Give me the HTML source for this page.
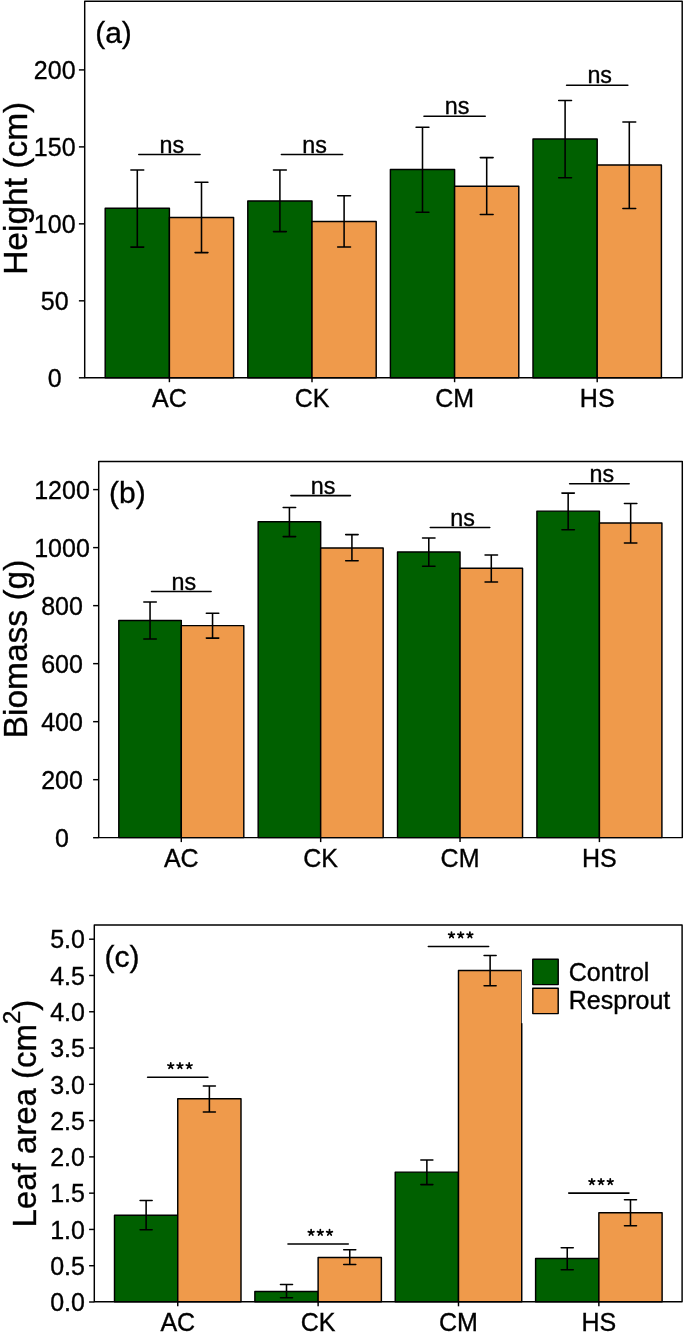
<!DOCTYPE html>
<html><head><meta charset="utf-8"><style>
html,body{margin:0;padding:0;background:#fff;}
body{width:685px;height:1334px;overflow:hidden;}
svg{display:block;font-family:"Liberation Sans", sans-serif;will-change:transform;}
text{fill:#000;stroke:#000;stroke-width:0.35px;}
rect,path{stroke-linejoin:round;}
</style></head><body>
<svg width="685" height="1334" viewBox="0 0 685 1334">
<rect width="685" height="1334" fill="#fff"/>
<rect x="105.20" y="208.30" width="64.20" height="169.40" fill="#006000" stroke="#000" stroke-width="1.45"/>
<rect x="169.40" y="217.50" width="64.20" height="160.20" fill="#EF9A4B" stroke="#000" stroke-width="1.45"/>
<path d="M137.30 169.90V247.10M130.88 169.90H143.73M130.88 247.10H143.73" stroke="#000" stroke-width="1.55" stroke-linecap="round" fill="none"/>
<path d="M201.50 182.30V252.60M195.07 182.30H207.93M195.07 252.60H207.93" stroke="#000" stroke-width="1.55" stroke-linecap="round" fill="none"/>
<path d="M138.78 154.50H200.03" stroke="#000" stroke-width="1.55" stroke-linecap="round" fill="none"/>
<text x="171.90" y="152.60" text-anchor="middle" font-size="23.3">ns</text>
<path d="M169.40 377.70V382.20" stroke="#000" stroke-width="1.45"/>
<text x="169.40" y="406.80" text-anchor="middle" font-size="25">AC</text>
<rect x="247.80" y="200.90" width="64.20" height="176.80" fill="#006000" stroke="#000" stroke-width="1.45"/>
<rect x="312.00" y="221.40" width="64.20" height="156.30" fill="#EF9A4B" stroke="#000" stroke-width="1.45"/>
<path d="M279.90 169.90V231.60M273.48 169.90H286.33M273.48 231.60H286.33" stroke="#000" stroke-width="1.55" stroke-linecap="round" fill="none"/>
<path d="M344.10 195.80V246.90M337.68 195.80H350.53M337.68 246.90H350.53" stroke="#000" stroke-width="1.55" stroke-linecap="round" fill="none"/>
<path d="M281.38 154.50H342.62" stroke="#000" stroke-width="1.55" stroke-linecap="round" fill="none"/>
<text x="314.50" y="152.60" text-anchor="middle" font-size="23.3">ns</text>
<path d="M312.00 377.70V382.20" stroke="#000" stroke-width="1.45"/>
<text x="312.00" y="406.80" text-anchor="middle" font-size="25">CK</text>
<rect x="390.40" y="169.50" width="64.20" height="208.20" fill="#006000" stroke="#000" stroke-width="1.45"/>
<rect x="454.60" y="186.30" width="64.20" height="191.40" fill="#EF9A4B" stroke="#000" stroke-width="1.45"/>
<path d="M422.50 127.20V212.20M416.07 127.20H428.93M416.07 212.20H428.93" stroke="#000" stroke-width="1.55" stroke-linecap="round" fill="none"/>
<path d="M486.70 157.60V214.50M480.27 157.60H493.12M480.27 214.50H493.12" stroke="#000" stroke-width="1.55" stroke-linecap="round" fill="none"/>
<path d="M423.97 116.20H485.22" stroke="#000" stroke-width="1.55" stroke-linecap="round" fill="none"/>
<text x="457.10" y="114.30" text-anchor="middle" font-size="23.3">ns</text>
<path d="M454.60 377.70V382.20" stroke="#000" stroke-width="1.45"/>
<text x="454.60" y="406.80" text-anchor="middle" font-size="25">CM</text>
<rect x="533.00" y="139.00" width="64.20" height="238.70" fill="#006000" stroke="#000" stroke-width="1.45"/>
<rect x="597.20" y="164.90" width="64.20" height="212.80" fill="#EF9A4B" stroke="#000" stroke-width="1.45"/>
<path d="M565.10 100.50V177.80M558.68 100.50H571.52M558.68 177.80H571.52" stroke="#000" stroke-width="1.55" stroke-linecap="round" fill="none"/>
<path d="M629.30 121.90V208.40M622.88 121.90H635.72M622.88 208.40H635.72" stroke="#000" stroke-width="1.55" stroke-linecap="round" fill="none"/>
<path d="M566.58 85.30H627.83" stroke="#000" stroke-width="1.55" stroke-linecap="round" fill="none"/>
<text x="599.70" y="83.40" text-anchor="middle" font-size="23.3">ns</text>
<path d="M597.20 377.70V382.20" stroke="#000" stroke-width="1.45"/>
<text x="597.20" y="406.80" text-anchor="middle" font-size="25">HS</text>
<rect x="84.7" y="1.2" width="597.50" height="376.50" fill="none" stroke="#000" stroke-width="1.45"/>
<path d="M78.90 377.80H84.7" stroke="#000" stroke-width="1.45"/>
<text x="54.7" y="387.05" text-anchor="middle" font-size="25">0</text>
<path d="M78.90 300.82H84.7" stroke="#000" stroke-width="1.45"/>
<text x="54.7" y="310.07" text-anchor="middle" font-size="25">50</text>
<path d="M78.90 223.85H84.7" stroke="#000" stroke-width="1.45"/>
<text x="54.7" y="233.10" text-anchor="middle" font-size="25">100</text>
<path d="M78.90 146.88H84.7" stroke="#000" stroke-width="1.45"/>
<text x="54.7" y="156.12" text-anchor="middle" font-size="25">150</text>
<path d="M78.90 69.90H84.7" stroke="#000" stroke-width="1.45"/>
<text x="54.7" y="79.15" text-anchor="middle" font-size="25">200</text>
<text x="95.2" y="43" font-size="30">(a)</text>
<text transform="translate(26.5 188.3) rotate(-90)" text-anchor="middle" font-size="33.5">Height (cm)</text>
<rect x="118.80" y="620.50" width="62.50" height="217.10" fill="#006000" stroke="#000" stroke-width="1.45"/>
<rect x="181.30" y="625.60" width="62.50" height="212.00" fill="#EF9A4B" stroke="#000" stroke-width="1.45"/>
<path d="M150.05 601.90V638.90M143.83 601.90H156.28M143.83 638.90H156.28" stroke="#000" stroke-width="1.55" stroke-linecap="round" fill="none"/>
<path d="M212.55 613.30V638.10M206.33 613.30H218.78M206.33 638.10H218.78" stroke="#000" stroke-width="1.55" stroke-linecap="round" fill="none"/>
<path d="M151.53 591.50H211.08" stroke="#000" stroke-width="1.55" stroke-linecap="round" fill="none"/>
<text x="183.80" y="589.60" text-anchor="middle" font-size="23.3">ns</text>
<path d="M181.30 837.60V842.10" stroke="#000" stroke-width="1.45"/>
<text x="181.30" y="867.00" text-anchor="middle" font-size="25">AC</text>
<rect x="258.17" y="521.70" width="62.50" height="315.90" fill="#006000" stroke="#000" stroke-width="1.45"/>
<rect x="320.67" y="547.90" width="62.50" height="289.70" fill="#EF9A4B" stroke="#000" stroke-width="1.45"/>
<path d="M289.42 507.40V536.60M283.19 507.40H295.65M283.19 536.60H295.65" stroke="#000" stroke-width="1.55" stroke-linecap="round" fill="none"/>
<path d="M351.92 534.60V560.80M345.69 534.60H358.15M345.69 560.80H358.15" stroke="#000" stroke-width="1.55" stroke-linecap="round" fill="none"/>
<path d="M290.90 495.60H350.44" stroke="#000" stroke-width="1.55" stroke-linecap="round" fill="none"/>
<text x="323.17" y="493.70" text-anchor="middle" font-size="23.3">ns</text>
<path d="M320.67 837.60V842.10" stroke="#000" stroke-width="1.45"/>
<text x="320.67" y="867.00" text-anchor="middle" font-size="25">CK</text>
<rect x="397.54" y="551.90" width="62.50" height="285.70" fill="#006000" stroke="#000" stroke-width="1.45"/>
<rect x="460.04" y="568.30" width="62.50" height="269.30" fill="#EF9A4B" stroke="#000" stroke-width="1.45"/>
<path d="M428.79 538.00V566.20M422.56 538.00H435.02M422.56 566.20H435.02" stroke="#000" stroke-width="1.55" stroke-linecap="round" fill="none"/>
<path d="M491.29 555.00V582.00M485.06 555.00H497.52M485.06 582.00H497.52" stroke="#000" stroke-width="1.55" stroke-linecap="round" fill="none"/>
<path d="M430.27 527.40H489.81" stroke="#000" stroke-width="1.55" stroke-linecap="round" fill="none"/>
<text x="462.54" y="525.50" text-anchor="middle" font-size="23.3">ns</text>
<path d="M460.04 837.60V842.10" stroke="#000" stroke-width="1.45"/>
<text x="460.04" y="867.00" text-anchor="middle" font-size="25">CM</text>
<rect x="536.91" y="511.10" width="62.50" height="326.50" fill="#006000" stroke="#000" stroke-width="1.45"/>
<rect x="599.41" y="523.00" width="62.50" height="314.60" fill="#EF9A4B" stroke="#000" stroke-width="1.45"/>
<path d="M568.16 493.10V529.70M561.93 493.10H574.38M561.93 529.70H574.38" stroke="#000" stroke-width="1.55" stroke-linecap="round" fill="none"/>
<path d="M630.66 503.50V543.00M624.43 503.50H636.88M624.43 543.00H636.88" stroke="#000" stroke-width="1.55" stroke-linecap="round" fill="none"/>
<path d="M569.63 483.70H629.18" stroke="#000" stroke-width="1.55" stroke-linecap="round" fill="none"/>
<text x="601.91" y="481.80" text-anchor="middle" font-size="23.3">ns</text>
<path d="M599.41 837.60V842.10" stroke="#000" stroke-width="1.45"/>
<text x="599.41" y="867.00" text-anchor="middle" font-size="25">HS</text>
<rect x="98.7" y="461.4" width="583.60" height="376.20" fill="none" stroke="#000" stroke-width="1.45"/>
<path d="M93.10 837.70H98.7" stroke="#000" stroke-width="1.45"/>
<text x="62.0" y="846.95" text-anchor="middle" font-size="25">0</text>
<path d="M93.10 779.68H98.7" stroke="#000" stroke-width="1.45"/>
<text x="62.0" y="788.93" text-anchor="middle" font-size="25">200</text>
<path d="M93.10 721.67H98.7" stroke="#000" stroke-width="1.45"/>
<text x="62.0" y="730.92" text-anchor="middle" font-size="25">400</text>
<path d="M93.10 663.65H98.7" stroke="#000" stroke-width="1.45"/>
<text x="62.0" y="672.90" text-anchor="middle" font-size="25">600</text>
<path d="M93.10 605.64H98.7" stroke="#000" stroke-width="1.45"/>
<text x="62.0" y="614.89" text-anchor="middle" font-size="25">800</text>
<path d="M93.10 547.62H98.7" stroke="#000" stroke-width="1.45"/>
<text x="62.0" y="556.87" text-anchor="middle" font-size="25">1000</text>
<path d="M93.10 489.60H98.7" stroke="#000" stroke-width="1.45"/>
<text x="62.0" y="498.85" text-anchor="middle" font-size="25">1200</text>
<text x="109" y="502.7" font-size="30">(b)</text>
<text transform="translate(26.5 649.0) rotate(-90)" text-anchor="middle" font-size="33.5">Biomass (g)</text>
<rect x="114.50" y="1215.20" width="63.25" height="86.60" fill="#006000" stroke="#000" stroke-width="1.45"/>
<rect x="177.75" y="1098.80" width="63.25" height="203.00" fill="#EF9A4B" stroke="#000" stroke-width="1.45"/>
<path d="M146.12 1200.40V1229.70M140.10 1200.40H152.15M140.10 1229.70H152.15" stroke="#000" stroke-width="1.55" stroke-linecap="round" fill="none"/>
<path d="M209.38 1086.00V1111.90M203.35 1086.00H215.40M203.35 1111.90H215.40" stroke="#000" stroke-width="1.55" stroke-linecap="round" fill="none"/>
<path d="M147.60 1077.20H207.90" stroke="#000" stroke-width="1.55" stroke-linecap="round" fill="none"/>
<path d="M170.75 1065.90L170.75 1062.90M170.75 1065.90L173.60 1064.97M170.75 1065.90L172.51 1068.33M170.75 1065.90L168.99 1068.33M170.75 1065.90L167.90 1064.97" stroke="#000" stroke-width="1.7" stroke-linecap="round" fill="none"/>
<path d="M179.95 1065.90L179.95 1062.90M179.95 1065.90L182.80 1064.97M179.95 1065.90L181.71 1068.33M179.95 1065.90L178.19 1068.33M179.95 1065.90L177.10 1064.97" stroke="#000" stroke-width="1.7" stroke-linecap="round" fill="none"/>
<path d="M189.15 1065.90L189.15 1062.90M189.15 1065.90L192.00 1064.97M189.15 1065.90L190.91 1068.33M189.15 1065.90L187.39 1068.33M189.15 1065.90L186.30 1064.97" stroke="#000" stroke-width="1.7" stroke-linecap="round" fill="none"/>
<path d="M177.75 1301.80V1306.30" stroke="#000" stroke-width="1.45"/>
<text x="177.75" y="1331.10" text-anchor="middle" font-size="25">AC</text>
<rect x="254.87" y="1291.40" width="63.25" height="10.40" fill="#006000" stroke="#000" stroke-width="1.45"/>
<rect x="318.12" y="1257.40" width="63.25" height="44.40" fill="#EF9A4B" stroke="#000" stroke-width="1.45"/>
<path d="M286.50 1284.40V1297.70M280.47 1284.40H292.52M280.47 1297.70H292.52" stroke="#000" stroke-width="1.55" stroke-linecap="round" fill="none"/>
<path d="M349.75 1249.70V1264.40M343.72 1249.70H355.77M343.72 1264.40H355.77" stroke="#000" stroke-width="1.55" stroke-linecap="round" fill="none"/>
<path d="M287.97 1243.90H348.27" stroke="#000" stroke-width="1.55" stroke-linecap="round" fill="none"/>
<path d="M311.12 1232.60L311.12 1229.60M311.12 1232.60L313.97 1231.67M311.12 1232.60L312.88 1235.03M311.12 1232.60L309.36 1235.03M311.12 1232.60L308.27 1231.67" stroke="#000" stroke-width="1.7" stroke-linecap="round" fill="none"/>
<path d="M320.32 1232.60L320.32 1229.60M320.32 1232.60L323.17 1231.67M320.32 1232.60L322.08 1235.03M320.32 1232.60L318.56 1235.03M320.32 1232.60L317.47 1231.67" stroke="#000" stroke-width="1.7" stroke-linecap="round" fill="none"/>
<path d="M329.52 1232.60L329.52 1229.60M329.52 1232.60L332.37 1231.67M329.52 1232.60L331.28 1235.03M329.52 1232.60L327.76 1235.03M329.52 1232.60L326.67 1231.67" stroke="#000" stroke-width="1.7" stroke-linecap="round" fill="none"/>
<path d="M318.12 1301.80V1306.30" stroke="#000" stroke-width="1.45"/>
<text x="318.12" y="1331.10" text-anchor="middle" font-size="25">CK</text>
<rect x="395.24" y="1172.10" width="63.25" height="129.70" fill="#006000" stroke="#000" stroke-width="1.45"/>
<rect x="458.49" y="970.50" width="63.25" height="331.30" fill="#EF9A4B" stroke="#000" stroke-width="1.45"/>
<path d="M426.87 1160.00V1184.60M420.84 1160.00H432.89M420.84 1184.60H432.89" stroke="#000" stroke-width="1.55" stroke-linecap="round" fill="none"/>
<path d="M490.12 955.40V985.80M484.09 955.40H496.14M484.09 985.80H496.14" stroke="#000" stroke-width="1.55" stroke-linecap="round" fill="none"/>
<path d="M428.34 946.40H488.64" stroke="#000" stroke-width="1.55" stroke-linecap="round" fill="none"/>
<path d="M451.49 935.10L451.49 932.10M451.49 935.10L454.34 934.17M451.49 935.10L453.25 937.53M451.49 935.10L449.73 937.53M451.49 935.10L448.64 934.17" stroke="#000" stroke-width="1.7" stroke-linecap="round" fill="none"/>
<path d="M460.69 935.10L460.69 932.10M460.69 935.10L463.54 934.17M460.69 935.10L462.45 937.53M460.69 935.10L458.93 937.53M460.69 935.10L457.84 934.17" stroke="#000" stroke-width="1.7" stroke-linecap="round" fill="none"/>
<path d="M469.89 935.10L469.89 932.10M469.89 935.10L472.74 934.17M469.89 935.10L471.65 937.53M469.89 935.10L468.13 937.53M469.89 935.10L467.04 934.17" stroke="#000" stroke-width="1.7" stroke-linecap="round" fill="none"/>
<path d="M458.49 1301.80V1306.30" stroke="#000" stroke-width="1.45"/>
<text x="458.49" y="1331.10" text-anchor="middle" font-size="25">CM</text>
<rect x="535.61" y="1258.50" width="63.25" height="43.30" fill="#006000" stroke="#000" stroke-width="1.45"/>
<rect x="598.86" y="1212.70" width="63.25" height="89.10" fill="#EF9A4B" stroke="#000" stroke-width="1.45"/>
<path d="M567.24 1247.70V1269.80M561.21 1247.70H573.26M561.21 1269.80H573.26" stroke="#000" stroke-width="1.55" stroke-linecap="round" fill="none"/>
<path d="M630.49 1199.70V1225.80M624.46 1199.70H636.51M624.46 1225.80H636.51" stroke="#000" stroke-width="1.55" stroke-linecap="round" fill="none"/>
<path d="M568.71 1193.10H629.01" stroke="#000" stroke-width="1.55" stroke-linecap="round" fill="none"/>
<path d="M591.86 1181.80L591.86 1178.80M591.86 1181.80L594.71 1180.87M591.86 1181.80L593.62 1184.23M591.86 1181.80L590.10 1184.23M591.86 1181.80L589.01 1180.87" stroke="#000" stroke-width="1.7" stroke-linecap="round" fill="none"/>
<path d="M601.06 1181.80L601.06 1178.80M601.06 1181.80L603.91 1180.87M601.06 1181.80L602.82 1184.23M601.06 1181.80L599.30 1184.23M601.06 1181.80L598.21 1180.87" stroke="#000" stroke-width="1.7" stroke-linecap="round" fill="none"/>
<path d="M610.26 1181.80L610.26 1178.80M610.26 1181.80L613.11 1180.87M610.26 1181.80L612.02 1184.23M610.26 1181.80L608.50 1184.23M610.26 1181.80L607.41 1180.87" stroke="#000" stroke-width="1.7" stroke-linecap="round" fill="none"/>
<path d="M598.86 1301.80V1306.30" stroke="#000" stroke-width="1.45"/>
<text x="598.86" y="1331.10" text-anchor="middle" font-size="25">HS</text>
<rect x="94.3" y="925.0" width="587.80" height="376.80" fill="none" stroke="#000" stroke-width="1.45"/>
<path d="M89.10 1302.00H94.3" stroke="#000" stroke-width="1.45"/>
<text x="67.6" y="1311.25" text-anchor="middle" font-size="25">0.0</text>
<path d="M89.10 1265.72H94.3" stroke="#000" stroke-width="1.45"/>
<text x="67.6" y="1274.97" text-anchor="middle" font-size="25">0.5</text>
<path d="M89.10 1229.44H94.3" stroke="#000" stroke-width="1.45"/>
<text x="67.6" y="1238.69" text-anchor="middle" font-size="25">1.0</text>
<path d="M89.10 1193.16H94.3" stroke="#000" stroke-width="1.45"/>
<text x="67.6" y="1202.41" text-anchor="middle" font-size="25">1.5</text>
<path d="M89.10 1156.88H94.3" stroke="#000" stroke-width="1.45"/>
<text x="67.6" y="1166.13" text-anchor="middle" font-size="25">2.0</text>
<path d="M89.10 1120.60H94.3" stroke="#000" stroke-width="1.45"/>
<text x="67.6" y="1129.85" text-anchor="middle" font-size="25">2.5</text>
<path d="M89.10 1084.32H94.3" stroke="#000" stroke-width="1.45"/>
<text x="67.6" y="1093.57" text-anchor="middle" font-size="25">3.0</text>
<path d="M89.10 1048.04H94.3" stroke="#000" stroke-width="1.45"/>
<text x="67.6" y="1057.29" text-anchor="middle" font-size="25">3.5</text>
<path d="M89.10 1011.76H94.3" stroke="#000" stroke-width="1.45"/>
<text x="67.6" y="1021.01" text-anchor="middle" font-size="25">4.0</text>
<path d="M89.10 975.48H94.3" stroke="#000" stroke-width="1.45"/>
<text x="67.6" y="984.73" text-anchor="middle" font-size="25">4.5</text>
<path d="M89.10 939.20H94.3" stroke="#000" stroke-width="1.45"/>
<text x="67.6" y="948.45" text-anchor="middle" font-size="25">5.0</text>
<text x="104.5" y="967" font-size="30">(c)</text>
<text transform="translate(35.6 1113.6) rotate(-90)" text-anchor="middle" font-size="33">Leaf area (cm<tspan dy="-15.4" font-size="24">2</tspan><tspan dy="15.4">)</tspan></text>
<rect x="521.75" y="940" width="159" height="83.2" fill="#fff"/>
<rect x="532.8" y="959.2" width="25.4" height="25.4" fill="#006000" stroke="#000" stroke-width="1.45"/>
<rect x="532.8" y="988.2" width="25.4" height="25.4" fill="#EF9A4B" stroke="#000" stroke-width="1.45"/>
<text x="568.8" y="980.6" font-size="25">Control</text>
<text x="568.8" y="1009" font-size="25">Resprout</text>
</svg>
</body></html>
